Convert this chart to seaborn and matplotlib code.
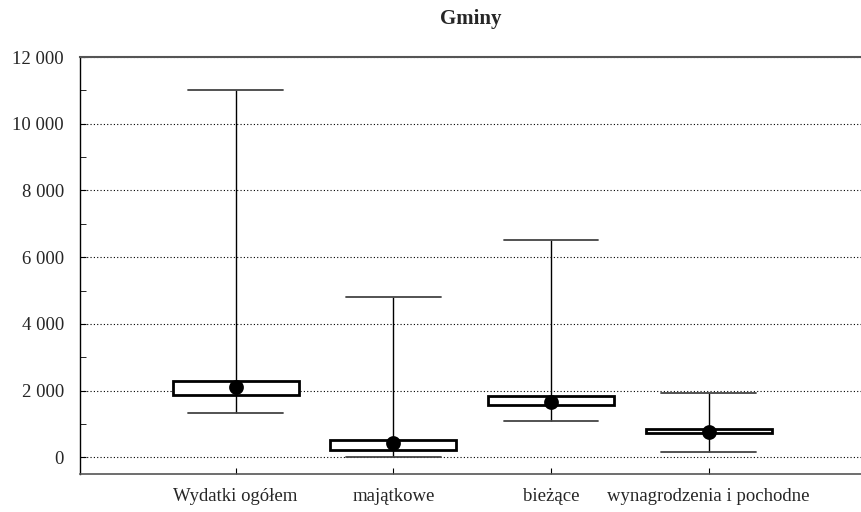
import matplotlib
matplotlib.use("Agg")
import matplotlib.pyplot as plt
from matplotlib.ticker import MultipleLocator, FuncFormatter
import pandas as pd
import seaborn as sns

# dane
kategorie = ["Wydatki ogółem", "majątkowe", "bieżące", "wynagrodzenia i pochodne"]
minimum = [1340, 0, 1090, 170]
kwartyl1 = [1880, 227, 1560, 715]
srednia = [2110, 438, 1670, 760]
kwartyl3 = [2289, 527, 1840, 860]
maksimum = [11000, 4800, 6500, 1940]

wiersze = []
for i, k in enumerate(kategorie):
    for v in (minimum[i], kwartyl1[i], srednia[i], kwartyl3[i], maksimum[i]):
        wiersze.append({"kat": k, "wart": v})
df = pd.DataFrame(wiersze)
dfm = pd.DataFrame({"kat": kategorie, "wart": srednia})

sns.set_style("white")
plt.rcParams["font.family"] = ["Liberation Serif", "DejaVu Serif"]

fig = plt.figure(figsize=(8.61, 5.12), dpi=100)
ax = fig.add_axes([80 / 861, (512 - 473.7) / 512, 781 / 861, (473.7 - 57) / 512])

sns.boxplot(data=df, x="kat", y="wart", order=kategorie, whis=(0, 100), width=0.8,
            capwidths=0.6, ax=ax,
            boxprops=dict(facecolor="white", edgecolor="black", linewidth=2),
            whiskerprops=dict(color="black", linewidth=1),
            capprops=dict(color="#444444", linewidth=1.3),
            medianprops=dict(visible=False))
sns.pointplot(data=dfm, x="kat", y="wart", order=kategorie, linestyle="none",
              marker="o", color="black", markersize=8.6, ax=ax)

ax.set_xlim(-0.987, 3.966)
ax.set_ylim(-490, 12000)
ax.yaxis.set_major_locator(MultipleLocator(2000))
ax.yaxis.set_minor_locator(MultipleLocator(1000))
ax.yaxis.set_major_formatter(FuncFormatter(lambda v, p: f"{v:,.0f}".replace(",", " ")))
ax.grid(axis="y", which="major", color="black", linestyle=(0, (1, 2)), linewidth=0.8)
ax.set_axisbelow(True)

ax.tick_params(axis="y", which="both", direction="in", left=True, length=4,
               labelsize=13.5, pad=11.5, color="black")
ax.tick_params(axis="x", direction="in", bottom=True, length=4, labelsize=13.5,
               pad=10, color="black")

ax.spines["right"].set_visible(False)
ax.spines["left"].set_color("black")
ax.spines["left"].set_linewidth(1)
ax.spines["top"].set_color("#555555")
ax.spines["top"].set_linewidth(1.5)
ax.spines["bottom"].set_color("#555555")
ax.spines["bottom"].set_linewidth(1.2)

ax.set_xlabel("")
ax.set_ylabel("")
ax.set_title("Gminy", fontsize=15, fontweight="bold", pad=23.5)

fig.savefig("out.png", dpi=100)
